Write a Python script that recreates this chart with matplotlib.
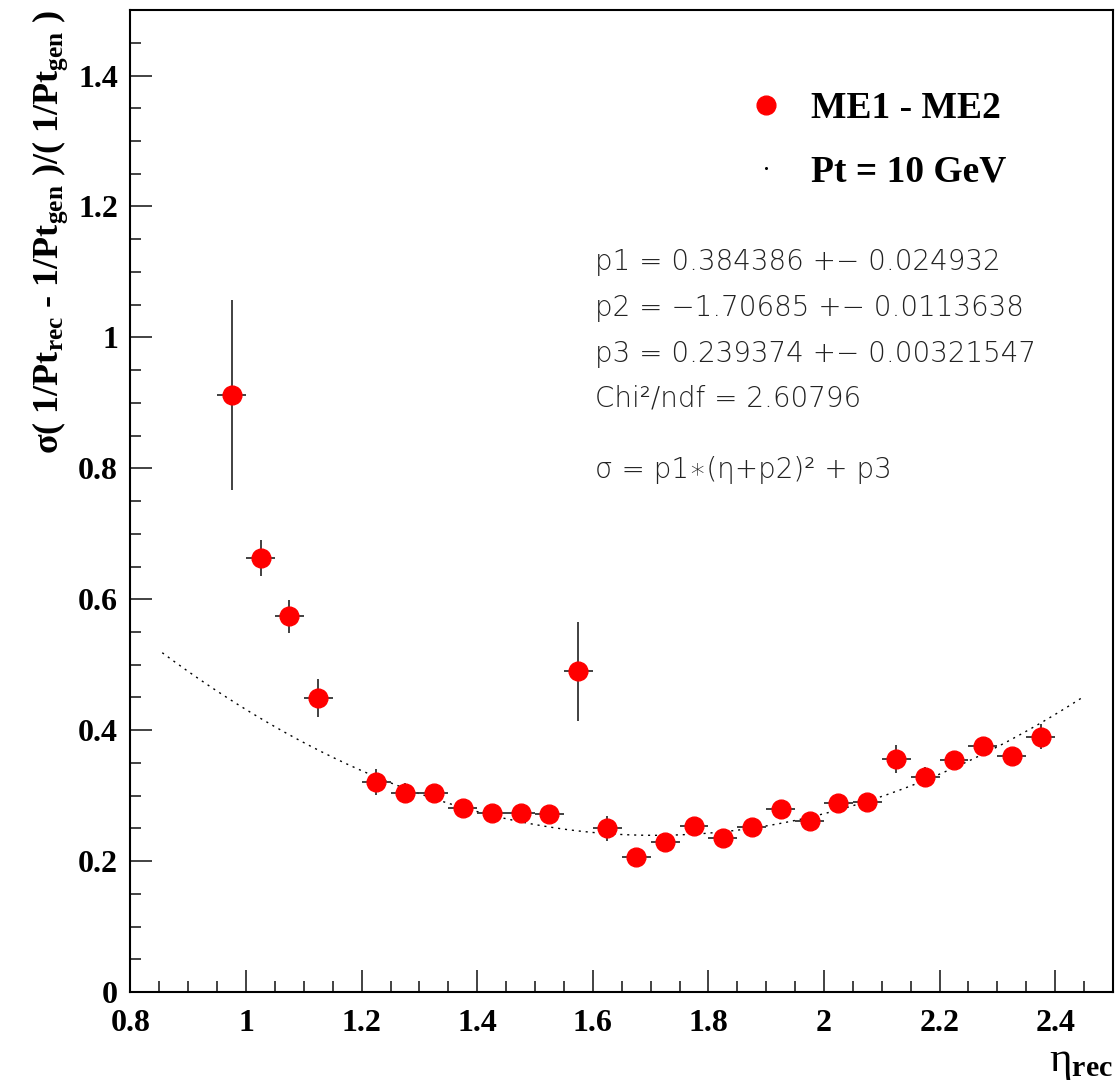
import numpy as np
import matplotlib
matplotlib.use('Agg')
import matplotlib.pyplot as plt
from matplotlib.lines import Line2D
from matplotlib.ticker import MultipleLocator

plt.rcParams['font.family'] = ['Liberation Serif', 'DejaVu Serif']
plt.rcParams['mathtext.fontset'] = 'custom'
plt.rcParams['mathtext.rm'] = 'Liberation Serif'
plt.rcParams['mathtext.it'] = 'Liberation Serif:italic'
plt.rcParams['mathtext.bf'] = 'Liberation Serif:bold'
plt.rcParams['mathtext.default'] = 'bf'

# resolution vs eta, bins of 0.05
eta = [0.975, 1.025, 1.075, 1.125, 1.225, 1.275, 1.325, 1.375, 1.425, 1.475,
       1.525, 1.575, 1.625, 1.675, 1.725, 1.775, 1.825, 1.875, 1.925, 1.975,
       2.025, 2.075, 2.125, 2.175, 2.225, 2.275, 2.325, 2.375]
sigma = [0.912, 0.663, 0.574, 0.449, 0.321, 0.304, 0.304, 0.281, 0.273, 0.273,
         0.272, 0.490, 0.250, 0.206, 0.229, 0.253, 0.236, 0.252, 0.279, 0.261,
         0.289, 0.290, 0.356, 0.328, 0.354, 0.376, 0.361, 0.390]
sigma_err = [0.145, 0.028, 0.025, 0.029, 0.020, 0.015, 0.013, 0.012, 0.012, 0.012,
             0.012, 0.076, 0.019, 0.012, 0.012, 0.013, 0.013, 0.013, 0.014, 0.013,
             0.013, 0.013, 0.021, 0.015, 0.014, 0.014, 0.012, 0.019]
eta_err = 0.025

# fit parameters
p1 = 0.384386
p2 = -1.70685
p3 = 0.239374
fit_range = (0.855, 2.445)

stat_lines = ['p1 = 0.384386 +\u2212 0.024932',
              'p2 = \u22121.70685 +\u2212 0.0113638',
              'p3 = 0.239374 +\u2212 0.00321547',
              'Chi\u00b2/ndf = 2.60796',
              '\u03c3 = p1\u2217(\u03b7+p2)\u00b2 + p3']
stat_y = [1.115, 1.045, 0.975, 0.906, 0.797]

fig = plt.figure(figsize=(11.19, 10.91), dpi=100)
ax = fig.add_axes([0.1166, 0.0907, 0.9946 - 0.1166, 0.9908 - 0.0907])

ax.errorbar(eta, sigma, xerr=eta_err, yerr=sigma_err, fmt='o', color='red',
            markersize=13.5, ecolor='#333333', elinewidth=1.3, capsize=0,
            zorder=3)

xf = np.linspace(fit_range[0], fit_range[1], 300)
ax.plot(xf, p1 * (xf + p2) ** 2 + p3, color='black', lw=1.0,
        linestyle=(0, (1.5, 3.5)), zorder=2)

ax.set_xlim(0.8, 2.5)
ax.set_ylim(0, 1.5)
ax.xaxis.set_major_locator(MultipleLocator(0.2))
ax.xaxis.set_minor_locator(MultipleLocator(0.05))
ax.yaxis.set_major_locator(MultipleLocator(0.2))
ax.yaxis.set_minor_locator(MultipleLocator(0.05))
ax.xaxis.set_major_formatter(plt.FuncFormatter(lambda v, p: '%g' % round(v, 2)))
ax.yaxis.set_major_formatter(plt.FuncFormatter(lambda v, p: '%g' % round(v, 2)))
ax.tick_params(which='both', direction='in', top=False, right=False,
               width=1.2, color='#222222')
ax.tick_params(which='major', length=16)
ax.tick_params(which='minor', length=8)
ax.tick_params(axis='x', which='major', pad=12, labelsize=23)
ax.tick_params(axis='y', which='major', pad=9, labelsize=23)
for lab in ax.get_xticklabels() + ax.get_yticklabels():
    lab.set_fontweight('bold')
for s in ax.spines.values():
    s.set_linewidth(1.5)

ax.set_ylabel('\u03c3( 1/Pt$_{rec}$ - 1/Pt$_{gen}$ )/( 1/Pt$_{gen}$ )',
              fontsize=26, fontweight='bold', loc='top', labelpad=6)
fig.text(0.9946, 0.008, '\u03b7$_{rec}$', fontsize=31, ha='right', va='bottom')

# legend
handles = [Line2D([], [], color='red', marker='o', markersize=13.5, linestyle='none'),
           Line2D([], [], color='black', marker='o', markersize=1.2, linestyle='none')]
ax.legend(handles, ['ME1 - ME2', 'Pt = 10 GeV'], loc='upper left',
          bbox_to_anchor=(0.6644, 0.9166), bbox_transform=fig.transFigure,
          frameon=False, prop={'family': 'Liberation Serif', 'weight': 'bold', 'size': 27},
          handlelength=1.2, handletextpad=0.6, labelspacing=0.75,
          borderpad=0, borderaxespad=0)

# fit results
for y, s in zip(stat_y, stat_lines):
    ax.text(1.604, y, s, fontsize=20, family='DejaVu Sans', fontweight='light',
            color='#222222', va='center', ha='left')

fig.savefig('out.png', dpi=100, facecolor='white')
